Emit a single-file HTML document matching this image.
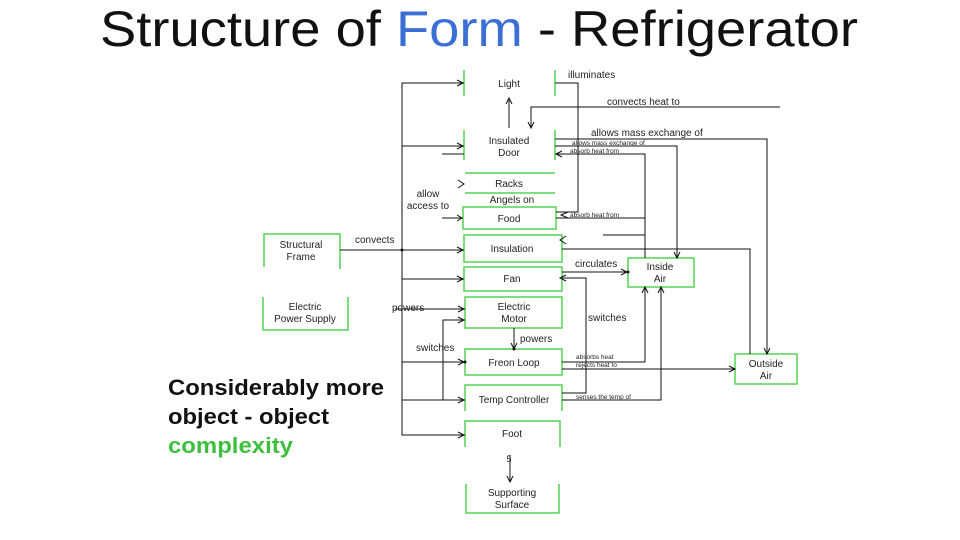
<!DOCTYPE html>
<html><head><meta charset="utf-8"><style>
html,body{margin:0;padding:0;background:#fff;}
svg{display:block;}
</style></head><body>
<svg width="960" height="540" viewBox="0 0 960 540" xmlns="http://www.w3.org/2000/svg" font-family="Liberation Sans, sans-serif">
<rect width="960" height="540" fill="#fff"/>
<text x="100" y="46" font-size="50" textLength="758" lengthAdjust="spacingAndGlyphs" fill="#111">Structure of <tspan fill="#3b6fd6">Form</tspan> - Refrigerator</text>

<g font-family="Liberation Sans, sans-serif" font-weight="bold" font-size="22">
<text x="168" y="395" fill="#111" textLength="216" lengthAdjust="spacingAndGlyphs">Considerably more</text>
<text x="168" y="424" fill="#111" textLength="161" lengthAdjust="spacingAndGlyphs">object - object</text>
<text x="168" y="453" fill="#3fbf3f" textLength="125" lengthAdjust="spacingAndGlyphs">complexity</text>
</g>

<!-- green boxes -->
<g stroke="#55d255" stroke-width="1.5" fill="none">
<line x1="464" y1="70" x2="464" y2="96"/><line x1="555" y1="70" x2="555" y2="96"/>
<line x1="464" y1="130" x2="464" y2="160"/><line x1="555" y1="130" x2="555" y2="160"/>
<line x1="465" y1="173" x2="555" y2="173"/><line x1="465" y1="193" x2="555" y2="193"/>
<rect x="463" y="207" width="93" height="22"/>
<rect x="464" y="235" width="98" height="27"/>
<rect x="464" y="267" width="98" height="24"/>
<rect x="465" y="297" width="97" height="31"/>
<rect x="465" y="349" width="97" height="26"/>
<polyline points="465,411 465,385 562,385 562,411"/>
<polyline points="465,447 465,421 560,421 560,447"/>
<polyline points="466,484 466,513 559,513 559,484"/>
<polyline points="264,267 264,234 340,234 340,269"/>
<polyline points="263,297 263,330 348,330 348,297"/>
<rect x="628" y="258" width="66" height="29"/>
<rect x="735" y="354" width="62" height="30"/>
</g>

<!-- connectors -->
<g stroke="#111" stroke-width="1" fill="none">
<polyline points="464,83 402,83 402,435 465,435"/>
<line x1="402" y1="146" x2="464" y2="146"/>
<line x1="402" y1="279" x2="464" y2="279"/>
<line x1="402" y1="362" x2="465" y2="362"/>
<line x1="402" y1="400" x2="465" y2="400"/>
<line x1="442" y1="154" x2="464" y2="154"/>
<line x1="442" y1="218" x2="463" y2="218"/>
<line x1="340" y1="250" x2="464" y2="250"/>
<line x1="395" y1="309" x2="465" y2="309"/>
<polyline points="465,400 443,400 443,320 465,320"/>
<line x1="509" y1="128" x2="509" y2="100"/>
<polyline points="555,83 578,83 578,212 556,212"/>
<polyline points="780,107 531,107 531,127"/>
<polyline points="555,139 767,139 767,354"/>
<polyline points="555,146 677,146 677,258"/>
<polyline points="555,154 645,154 645,258"/>
<line x1="556" y1="218" x2="645" y2="218"/>
<line x1="603" y1="235" x2="645" y2="235"/>
<polyline points="562,249 750,249 750,354"/>
<line x1="562" y1="272" x2="628" y2="272"/>
<polyline points="562,278 586,278 586,393 562,393"/>
<line x1="514" y1="328" x2="514" y2="349"/>
<polyline points="562,362 645,362 645,287"/>
<line x1="562" y1="369" x2="735" y2="369"/>
<polyline points="562,400 661,400 661,287"/>
<line x1="510" y1="455" x2="510" y2="482"/>
</g>
<!-- arrowheads -->
<g stroke="#111" stroke-width="1" fill="none">
<polyline points="457,80 463,83 457,86"/><polyline points="457,143 463,146 457,149"/>
<polyline points="457,276 463,279 457,282"/><polyline points="458,359 464,362 458,365"/>
<polyline points="458,397 464,400 458,403"/><polyline points="458,432 464,435 458,438"/>
<polyline points="457,215 462,218 457,221"/><polyline points="457,247 463,250 457,253"/>
<polyline points="458,306 464,309 458,312"/><polyline points="458,317 464,320 458,323"/>
<polyline points="506,104 509,98 512,104"/><polyline points="528,122 531,128 534,122"/>
<polyline points="674,252 677,258 680,252"/><polyline points="764,348 767,354 770,348"/>
<polyline points="621,269 627,272 621,275"/><polyline points="729,366 735,369 729,372"/>
<polyline points="642,293 645,287 648,293"/><polyline points="658,293 661,287 664,293"/>
<polyline points="511,343 514,349 517,343"/><polyline points="507,476 510,482 513,476"/>
<polyline points="568,212 561,215 568,218"/><polyline points="566,236 560,240 566,244"/>
<polyline points="566,275 560,278 566,281"/><polyline points="562,151 556,154 562,157"/>
<polyline points="458,180 464,184 458,188"/>
</g>
<g fill="#111"><circle cx="402" cy="250" r="1.5"/><circle cx="628" cy="272" r="1.5"/><circle cx="514" cy="349" r="1.5"/><circle cx="465" cy="362" r="1.5"/></g>

<!-- labels -->
<g font-size="10" fill="#222" text-anchor="middle">
<text x="509" y="87">Light</text>
<text x="509" y="144">Insulated</text><text x="509" y="156">Door</text>
<text x="509" y="187">Racks</text>
<text x="512" y="203">Angels on</text>
<text x="509" y="222">Food</text>
<text x="512" y="252">Insulation</text>
<text x="512" y="282">Fan</text>
<text x="514" y="310">Electric</text><text x="514" y="322">Motor</text>
<text x="514" y="366">Freon Loop</text>
<text x="514" y="403">Temp Controller</text>
<text x="512" y="437">Foot</text>
<text x="512" y="496">Supporting</text><text x="512" y="508">Surface</text>
<text x="301" y="248">Structural</text><text x="301" y="260">Frame</text>
<text x="305" y="310">Electric</text><text x="305" y="322">Power Supply</text>
<text x="660" y="270">Inside</text><text x="660" y="282">Air</text>
<text x="766" y="367">Outside</text><text x="766" y="379">Air</text>
<text x="428" y="197">allow</text><text x="428" y="209">access to</text>
<text x="509" y="462" font-size="9">5</text>
</g>
<g font-size="10" fill="#222">
<text x="568" y="78">illuminates</text>
<text x="607" y="105">convects heat to</text>
<text x="591" y="136">allows mass exchange of</text>
<text x="355" y="243">convects</text>
<text x="575" y="267">circulates</text>
<text x="392" y="311">powers</text>
<text x="588" y="321">switches</text>
<text x="520" y="342">powers</text>
<text x="416" y="351">switches</text>
</g>
<g font-size="6.5" fill="#222">
<text x="572" y="145">allows mass exchange of</text>
<text x="570" y="153">absorb heat from</text>
<text x="570" y="217">absorb heat from</text>
<text x="576" y="359">absorbs heat</text>
<text x="576" y="367">rejects heat to</text>
<text x="576" y="399">senses the temp of</text>
</g>
</svg>
</body></html>
